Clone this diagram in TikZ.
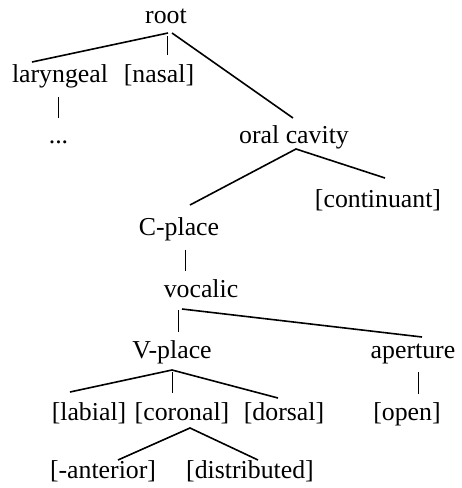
\documentclass[tikz,border=0pt]{standalone}
\usepackage{fontspec}
\setmainfont{Liberation Serif}
\tikzset{
  lbl/.style={anchor=base, inner sep=0pt, font=\fontsize{25.8}{30}\selectfont},
  br/.style={line width=1.6pt},
  vr/.style={line width=0.8pt}
}
\begin{document}
\begin{tikzpicture}[x=1pt,y=1pt]
\useasboundingbox (0,0) rectangle (462,-488);
\node[lbl] (root) at (166,-23) {root};
\node[lbl] (lar) at (60,-82) {laryngeal};
\node[lbl] (nas) at (159,-82) {[nasal]};
\node[lbl] (dots) at (58.5,-143) {...};
\node[lbl] (oral) at (294,-143) {oral cavity};
\node[lbl] (cont) at (378,-207) {[continuant]};
\node[lbl] (cpl) at (179,-235) {C-place};
\node[lbl] (voc) at (201,-297) {vocalic};
\node[lbl] (vpl) at (172,-358) {V-place};
\node[lbl] (ape) at (413,-358) {aperture};
\node[lbl] (lab) at (89,-420) {[labial]};
\node[lbl] (cor) at (182,-420) {[coronal]};
\node[lbl] (dor) at (284,-420) {[dorsal]};
\node[lbl] (opn) at (407,-420) {[open]};
\node[lbl] (ant) at (103,-478) {[-anterior]};
\node[lbl] (dis) at (250,-478) {[distributed]};

\draw[br] ([shift={(2,-10)}]root.base) -- ([shift={(-28,20)}]lar.base);
\draw[vr] ([shift={(1,-13)}]root.base) -- ([shift={(8,27)}]nas.base);
\draw[br] ([shift={(6,-10)}]root.base) -- ([shift={(-1,25)}]oral.base);
\draw[vr] ([shift={(-2,-15)}]lar.base) -- ([shift={(-0.5,25)}]dots.base);
\draw[br] ([shift={(7,29)}]cont.base) -- ([shift={(2,-6)}]oral.base) -- ([shift={(11,30)}]cpl.base);
\draw[vr] ([shift={(6,-15)}]cpl.base) -- ([shift={(-16,26)}]voc.base);
\draw[vr] ([shift={(-23,-13)}]voc.base) -- ([shift={(6,26)}]vpl.base);
\draw[br] ([shift={(-19,-12)}]voc.base) -- ([shift={(9,21)}]ape.base);
\draw[br] ([shift={(-19,28)}]lab.base) -- ([shift={(0,-12)}]vpl.base) -- ([shift={(-6,22)}]dor.base);
\draw[vr] ([shift={(0,-14)}]vpl.base) -- ([shift={(-10,27)}]cor.base);
\draw[vr] ([shift={(5,-14)}]ape.base) -- ([shift={(11,26)}]opn.base);
\draw[br] ([shift={(15,18)}]ant.base) -- ([shift={(8,-8)}]cor.base) -- ([shift={(8,18)}]dis.base);
\end{tikzpicture}
\end{document}
